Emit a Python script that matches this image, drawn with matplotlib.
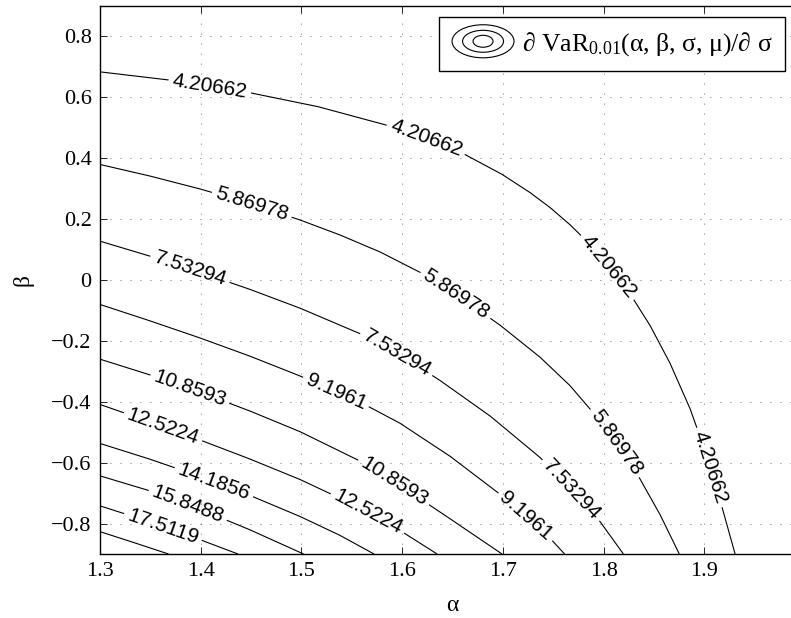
import numpy as np
import matplotlib
matplotlib.use('Agg')
import matplotlib.pyplot as plt
from matplotlib.contour import ContourSet
from matplotlib.legend_handler import HandlerBase
from matplotlib.lines import Line2D
from matplotlib.patches import Ellipse
from matplotlib.ticker import FuncFormatter

plt.rcParams['font.family'] = ['Liberation Serif', 'DejaVu Serif']
plt.rcParams['mathtext.fontset'] = 'custom'
plt.rcParams['mathtext.rm'] = 'Liberation Serif'
plt.rcParams['mathtext.it'] = 'Liberation Serif:italic'

# contour levels (last one is drawn but not labelled)
levels = [4.20662, 5.86978, 7.53294, 9.1961, 10.8593, 12.5224,
          14.1856, 15.8488, 17.5119, 19.1751]

# level curves, one list per level
curve_alpha = [
    [1.3000, 1.3715, 1.4470, 1.5165, 1.5900, 1.6277, 1.6595, 1.6992, 1.7270,
     1.7469, 1.7667, 1.7866, 1.8064, 1.8263, 1.8462, 1.8660, 1.8859, 1.9008,
     1.9157, 1.9306],
    [1.3000, 1.3497, 1.3993, 1.4490, 1.4986, 1.5383, 1.5781, 1.6178, 1.6575,
     1.6972, 1.7369, 1.7667, 1.7965, 1.8164, 1.8362, 1.8561, 1.8752],
    [1.3000, 1.3497, 1.3993, 1.4490, 1.4986, 1.5582, 1.5979, 1.6376, 1.6873,
     1.7369, 1.7667, 1.7965, 1.8197],
    [1.3000, 1.3497, 1.3993, 1.4490, 1.4986, 1.5582, 1.5979, 1.6476, 1.6972,
     1.7270, 1.7469, 1.7613],
    [1.3000, 1.3497, 1.3993, 1.4490, 1.4986, 1.5582, 1.5979, 1.6476, 1.6992],
    [1.3000, 1.3497, 1.3993, 1.4490, 1.4986, 1.5582, 1.5979, 1.6347],
    [1.3000, 1.3497, 1.3993, 1.4490, 1.4986, 1.5383, 1.5721],
    [1.3000, 1.3497, 1.3993, 1.4490, 1.5021],
    [1.3000, 1.3497, 1.3993, 1.4370],
    [1.3000, 1.3338, 1.3680],
]
curve_beta = [
    [0.6828, 0.6549, 0.6155, 0.5685, 0.5029, 0.4605, 0.4165, 0.3463, 0.2865,
     0.2373, 0.1808, 0.1161, 0.0416, -0.0460, -0.1501, -0.2739, -0.4232, -0.5611,
     -0.7236, -0.9000],
    [0.3788, 0.3407, 0.2984, 0.2508, 0.1966, 0.1473, 0.0915, 0.0246, -0.0562,
     -0.1488, -0.2538, -0.3474, -0.4623, -0.5519, -0.6537, -0.7709, -0.9000],
    [0.1270, 0.0777, 0.0252, -0.0314, -0.0930, -0.1767, -0.2463, -0.3303, -0.4469,
     -0.5831, -0.6803, -0.7936, -0.9000],
    [-0.0808, -0.1347, -0.1908, -0.2507, -0.3156, -0.4012, -0.4708, -0.5792,
     -0.7039, -0.7867, -0.8484, -0.9000],
    [-0.2604, -0.3121, -0.3687, -0.4308, -0.4984, -0.5949, -0.6744, -0.7844, -0.9000],
    [-0.4091, -0.4663, -0.5257, -0.5884, -0.6554, -0.7479, -0.8228, -0.9000],
    [-0.5371, -0.5889, -0.6455, -0.7079, -0.7768, -0.8389, -0.9000],
    [-0.6435, -0.6928, -0.7529, -0.8208, -0.9000],
    [-0.7420, -0.7945, -0.8530, -0.9000],
    [-0.8266, -0.8627, -0.9000],
]

# where the inline labels sit
label_alpha = [1.4090, 1.6240, 1.8054, 1.9058,
               1.4509, 1.6535, 1.8124,
               1.3894, 1.5949, 1.7687,
               1.5344, 1.7230,
               1.3894, 1.5920,
               1.3626, 1.5661,
               1.4132, 1.3874, 1.3626]
label_beta = [0.6352, 0.4651, 0.0449, -0.6153,
              0.2488, -0.0480, -0.5339,
              0.0357, -0.2410, -0.6879,
              -0.3671, -0.7758,
              -0.3574, -0.6626,
              -0.4817, -0.7631,
              -0.6629, -0.7384, -0.8097]

alpha_ticks = [1.3, 1.4, 1.5, 1.6, 1.7, 1.8, 1.9]
beta_ticks = [-0.8, -0.6, -0.4, -0.2, 0.0, 0.2, 0.4, 0.6, 0.8]
legend_label = '∂ Va$\\mathrm{R}_{0.01}$(α, β, σ, μ)/∂ σ'


class ContourIcon(HandlerBase):
    # three nested ellipses, like the matlab contour legend glyph
    def create_artists(self, legend, orig_handle, xdescent, ydescent,
                       width, height, fontsize, trans):
        cx = 0.5 * width - xdescent
        cy = 0.5 * height - ydescent
        sizes = [(44.6, 23.8), (29.5, 15.8), (14.4, 8.6)]
        return [Ellipse((cx, cy), w, h, fill=False, edgecolor='k', lw=0.8,
                        transform=trans) for w, h in sizes]


fig = plt.figure(figsize=(7.91, 6.18), dpi=100)
ax = fig.add_axes([100 / 791, 64 / 618, 705 / 791, 548.3 / 618])
ax.set_xlim(1.3, 2.0)
ax.set_ylim(-0.9, 0.9)

segs = [[np.column_stack([a, b])] for a, b in zip(curve_alpha, curve_beta)]
cs = ContourSet(ax, levels, segs, colors='k', linewidths=0.8)

with plt.rc_context({'font.family': ['Liberation Sans', 'DejaVu Sans']}):
    cs.clabel(levels[:-1], manual=list(zip(label_alpha, label_beta)),
              fmt='%g', fontsize=15, inline=True, inline_spacing=4)

ax.set_xticks(alpha_ticks)
ax.set_yticks(beta_ticks)
fmt = FuncFormatter(lambda v, p: f'{round(v, 2):g}'.replace('-', '\u2212'))
ax.xaxis.set_major_formatter(fmt)
ax.yaxis.set_major_formatter(fmt)
ax.tick_params(direction='in', top=True, right=True, length=5, width=0.6,
               labelsize=16, pad=6)
ax.grid(True, linestyle=(0, (1, 11)), color='0.25', linewidth=0.6)
for s in ax.spines.values():
    s.set_linewidth(1.0)

ax.set_xlabel('α', fontsize=17, labelpad=10)
ax.set_ylabel('β', fontsize=17, labelpad=13)

proxy = Line2D([], [])
ax.legend([proxy], [legend_label], handler_map={proxy: ContourIcon()},
          loc='upper right', bbox_to_anchor=(785 / 791, 1 - 17 / 618),
          bbox_transform=fig.transFigure, borderaxespad=0, fontsize=18.5,
          handlelength=2.4, handletextpad=0.3, borderpad=0.5,
          fancybox=False, framealpha=1, edgecolor='k')

fig.savefig('out.png', dpi=100)
